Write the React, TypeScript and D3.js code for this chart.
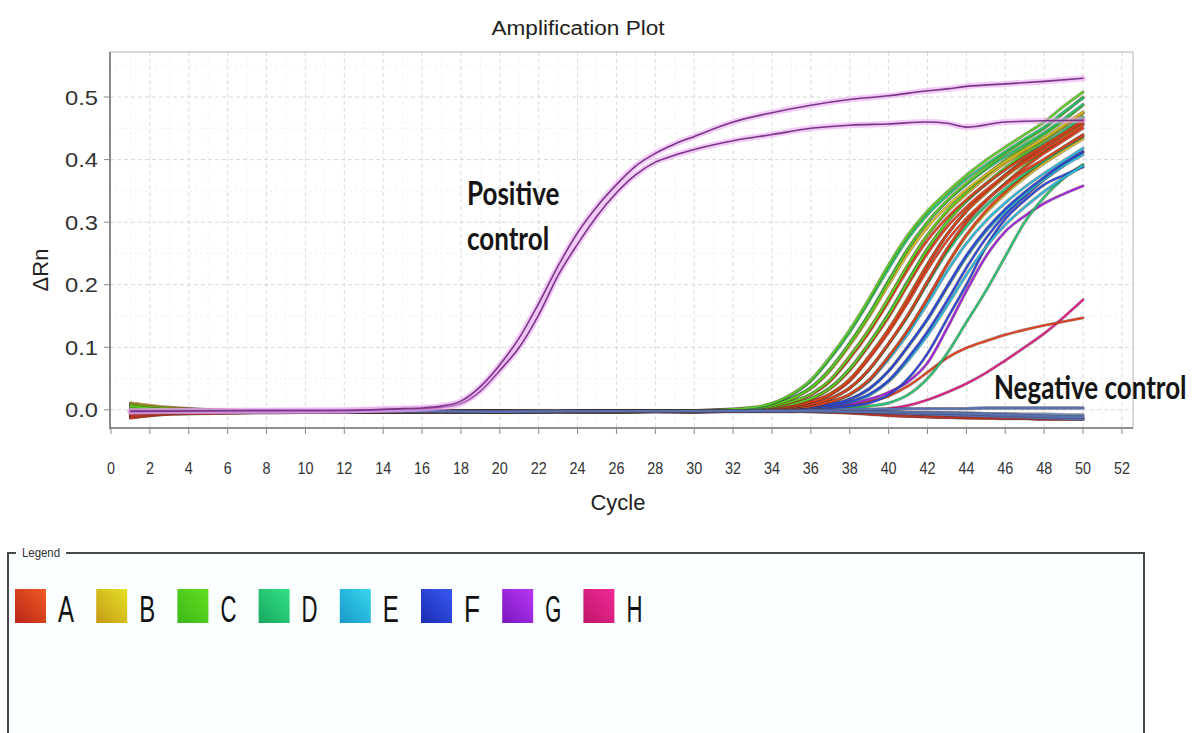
import React from 'react';
import * as d3 from 'd3';

// ---------- data ----------
const TITLE = 'Amplification Plot';
const X_LABEL = 'Cycle';
const Y_LABEL = 'ΔRn';
const X_TICKS = d3.range(0, 53, 2);
const Y_TICKS = [0, 0.1, 0.2, 0.3, 0.4, 0.5];

const ROWS = ['A', 'B', 'C', 'D', 'E', 'F', 'G', 'H'];
const ROW_COLORS = ['#e5401c', '#d6c01e', '#58d31e', '#22c870', '#25bce0', '#2a46e0', '#a024e0', '#e0208a'];
const ROW_GRAD_DARK = ['#b8261a', '#c49a18', '#3cb818', '#18a860', '#1a98c8', '#1a2cb0', '#7a16c0', '#c0186a'];
const ROW_GRAD_LIGHT = ['#f25a22', '#e6e024', '#62e020', '#34e088', '#36d6ee', '#3858f4', '#b838f4', '#f02896'];

// cycles at which the late-amplifying wells were read
const LATE_CYCLES = [1, 3, 8, 14, 20, 26, 30, 33, 35, 36, 37, 38, 39, 40, 41, 42, 43, 44, 45, 46, 47, 48, 49, 50];
// cycles at which the positive controls were read
const PC_CYCLES = [1, 3, 8, 12, 15, 16, 17, 18, 19, 20, 21, 22, 23, 24, 25, 26, 27, 28, 29, 30, 32, 34, 36, 38, 40, 42, 43, 44, 46, 48, 50];

const C1 = [0.006, 0.0, -0.003, -0.002, -0.003, -0.002, -0.001, 0.004, 0.025, 0.048, 0.085, 0.128, 0.178, 0.232, 0.28, 0.318, 0.348, 0.375, 0.399, 0.42, 0.44, 0.46, 0.485, 0.508];
const D1 = [-0.006, -0.003, -0.004, -0.003, -0.002, -0.003, -0.002, 0.003, 0.024, 0.046, 0.082, 0.124, 0.174, 0.226, 0.274, 0.312, 0.342, 0.369, 0.392, 0.413, 0.433, 0.452, 0.476, 0.498];
const C2 = [0.008, 0.002, -0.002, -0.003, -0.003, -0.002, -0.002, 0.002, 0.018, 0.035, 0.065, 0.106, 0.152, 0.205, 0.257, 0.3, 0.334, 0.362, 0.387, 0.41, 0.43, 0.45, 0.474, 0.5];
const D2 = [0.0, -0.004, -0.003, -0.002, -0.004, -0.003, -0.001, 0.002, 0.019, 0.036, 0.066, 0.107, 0.154, 0.207, 0.258, 0.3, 0.333, 0.36, 0.384, 0.405, 0.424, 0.443, 0.465, 0.488];
const B1 = [0.009, 0.003, -0.002, -0.003, -0.002, -0.003, -0.002, 0.002, 0.017, 0.034, 0.063, 0.103, 0.149, 0.2, 0.25, 0.292, 0.325, 0.352, 0.376, 0.397, 0.416, 0.434, 0.455, 0.476];
const C3 = [0.003, -0.001, -0.003, -0.002, -0.003, -0.004, -0.002, 0.001, 0.013, 0.025, 0.048, 0.085, 0.128, 0.178, 0.232, 0.28, 0.318, 0.348, 0.375, 0.399, 0.42, 0.44, 0.462, 0.487];
const A1 = [-0.011, -0.006, -0.004, -0.003, -0.002, -0.003, -0.002, 0.001, 0.012, 0.024, 0.046, 0.082, 0.124, 0.173, 0.225, 0.271, 0.307, 0.336, 0.361, 0.384, 0.404, 0.423, 0.442, 0.463];
const B2 = [0.006, 0.0, -0.003, -0.002, -0.003, -0.002, -0.003, 0.001, 0.013, 0.025, 0.048, 0.086, 0.129, 0.179, 0.232, 0.279, 0.316, 0.345, 0.371, 0.394, 0.414, 0.433, 0.453, 0.474];
const C4 = [0.002, -0.003, -0.002, -0.003, -0.002, -0.003, -0.002, 0.001, 0.009, 0.018, 0.035, 0.065, 0.106, 0.152, 0.205, 0.257, 0.3, 0.334, 0.362, 0.387, 0.41, 0.43, 0.452, 0.475];
const A2 = [-0.013, -0.007, -0.005, -0.003, -0.003, -0.002, -0.003, 0.0, 0.008, 0.017, 0.034, 0.063, 0.103, 0.148, 0.2, 0.25, 0.292, 0.324, 0.351, 0.375, 0.396, 0.415, 0.434, 0.455];
const D3 = [-0.002, -0.001, -0.003, -0.002, -0.003, -0.003, -0.001, 0.001, 0.009, 0.018, 0.036, 0.066, 0.107, 0.154, 0.207, 0.258, 0.3, 0.333, 0.36, 0.384, 0.406, 0.425, 0.446, 0.468];
const A3 = [-0.009, -0.005, -0.003, -0.004, -0.003, -0.003, -0.002, 0.0, 0.006, 0.013, 0.025, 0.048, 0.085, 0.128, 0.178, 0.232, 0.28, 0.318, 0.348, 0.375, 0.399, 0.42, 0.44, 0.46];
const B3 = [0.01, 0.002, -0.002, -0.003, -0.003, -0.002, -0.003, 0.0, 0.006, 0.013, 0.026, 0.049, 0.086, 0.129, 0.18, 0.233, 0.28, 0.317, 0.346, 0.372, 0.395, 0.415, 0.436, 0.456];
const C5 = [0.001, -0.002, -0.003, -0.002, -0.002, -0.003, -0.003, 0.0, 0.006, 0.013, 0.025, 0.048, 0.085, 0.128, 0.178, 0.232, 0.28, 0.318, 0.348, 0.376, 0.4, 0.422, 0.444, 0.466];
const A4 = [-0.012, -0.006, -0.004, -0.003, -0.003, -0.003, -0.002, 0.0, 0.004, 0.009, 0.018, 0.035, 0.065, 0.106, 0.152, 0.205, 0.257, 0.3, 0.334, 0.362, 0.387, 0.41, 0.43, 0.45];
const C6 = [0.0, -0.003, -0.002, -0.003, -0.003, -0.002, -0.003, 0.0, 0.004, 0.009, 0.018, 0.035, 0.065, 0.106, 0.152, 0.205, 0.257, 0.3, 0.334, 0.362, 0.389, 0.413, 0.435, 0.457];
const D4 = [-0.004, -0.002, -0.003, -0.003, -0.002, -0.003, -0.002, 0.0, 0.004, 0.009, 0.018, 0.035, 0.064, 0.105, 0.15, 0.202, 0.252, 0.293, 0.326, 0.353, 0.377, 0.398, 0.418, 0.437];
const A5 = [-0.01, -0.005, -0.003, -0.003, -0.003, -0.002, -0.003, -0.001, 0.003, 0.006, 0.013, 0.025, 0.048, 0.085, 0.128, 0.178, 0.232, 0.28, 0.318, 0.348, 0.375, 0.399, 0.42, 0.44];
const B4 = [0.011, 0.004, -0.002, -0.002, -0.003, -0.003, -0.002, -0.001, 0.003, 0.006, 0.013, 0.025, 0.048, 0.085, 0.128, 0.178, 0.231, 0.278, 0.315, 0.345, 0.371, 0.394, 0.414, 0.433];
const A6 = [-0.013, -0.007, -0.004, -0.003, -0.002, -0.003, -0.003, 0.0, 0.006, 0.012, 0.024, 0.046, 0.082, 0.124, 0.172, 0.224, 0.27, 0.306, 0.335, 0.36, 0.382, 0.401, 0.42, 0.438];
const E1 = [-0.003, -0.002, -0.003, -0.003, -0.002, -0.003, -0.002, -0.001, 0.003, 0.006, 0.013, 0.024, 0.046, 0.081, 0.122, 0.17, 0.221, 0.266, 0.302, 0.331, 0.356, 0.378, 0.398, 0.418];
const E2 = [-0.005, -0.003, -0.003, -0.002, -0.003, -0.003, -0.002, -0.001, 0.002, 0.004, 0.009, 0.017, 0.033, 0.062, 0.101, 0.144, 0.195, 0.244, 0.285, 0.317, 0.344, 0.368, 0.39, 0.408];
const F1 = [-0.004, -0.003, -0.002, -0.003, -0.003, -0.002, -0.003, -0.001, 0.002, 0.004, 0.009, 0.017, 0.034, 0.062, 0.102, 0.146, 0.197, 0.247, 0.288, 0.321, 0.348, 0.372, 0.394, 0.413];
const E3 = [-0.002, -0.003, -0.002, -0.003, -0.003, -0.002, -0.002, -0.002, 0.001, 0.003, 0.006, 0.012, 0.023, 0.045, 0.079, 0.119, 0.166, 0.216, 0.26, 0.296, 0.324, 0.349, 0.371, 0.39];
const F2 = [-0.006, -0.004, -0.003, -0.003, -0.002, -0.003, -0.002, -0.002, 0.001, 0.003, 0.006, 0.013, 0.025, 0.047, 0.083, 0.125, 0.174, 0.227, 0.274, 0.312, 0.341, 0.368, 0.391, 0.412];

const G_LATE = [-0.004, -0.003, -0.003, -0.002, -0.003, -0.002, -0.002, -0.001, 0.0, 0.002, 0.005, 0.009, 0.017, 0.028, 0.045, 0.075, 0.13, 0.19, 0.245, 0.285, 0.31, 0.33, 0.345, 0.358];
const F_LATE = [-0.005, -0.003, -0.002, -0.003, -0.003, -0.002, -0.002, -0.001, 0.0, 0.001, 0.003, 0.006, 0.011, 0.024, 0.05, 0.09, 0.145, 0.2, 0.26, 0.305, 0.335, 0.36, 0.375, 0.388];
const D_LATE = [-0.003, -0.002, -0.003, -0.003, -0.002, -0.002, -0.003, -0.002, -0.001, 0.0, 0.001, 0.003, 0.006, 0.011, 0.024, 0.05, 0.09, 0.14, 0.19, 0.245, 0.3, 0.34, 0.37, 0.392];
const A_LOW = [-0.008, -0.004, -0.003, -0.002, -0.003, -0.003, -0.002, -0.002, -0.001, 0.0, 0.002, 0.006, 0.013, 0.022, 0.038, 0.06, 0.083, 0.099, 0.11, 0.12, 0.128, 0.135, 0.141, 0.147];
const H_LOW = [-0.004, -0.003, -0.003, -0.002, -0.003, -0.002, -0.003, -0.003, -0.003, -0.002, -0.002, -0.001, 0.0, 0.002, 0.007, 0.016, 0.028, 0.042, 0.059, 0.079, 0.1, 0.122, 0.148, 0.176];

const NEG_A1 = [-0.009, -0.005, -0.003, -0.003, -0.002, -0.003, -0.002, -0.002, -0.002, -0.002, -0.003, -0.004, -0.006, -0.008, -0.01, -0.011, -0.012, -0.013, -0.013, -0.014, -0.014, -0.015, -0.015, -0.015];
const NEG_A2 = [-0.006, -0.004, -0.003, -0.002, -0.003, -0.002, -0.003, -0.002, -0.002, -0.003, -0.004, -0.005, -0.007, -0.009, -0.01, -0.011, -0.012, -0.012, -0.013, -0.013, -0.013, -0.014, -0.014, -0.014];
const NEG_E1 = [-0.004, -0.003, -0.002, -0.003, -0.003, -0.002, -0.002, -0.002, -0.002, -0.002, -0.002, -0.002, -0.003, -0.003, -0.004, -0.004, -0.005, -0.005, -0.006, -0.006, -0.007, -0.007, -0.008, -0.008];
const NEG_F1 = [-0.003, -0.002, -0.003, -0.003, -0.002, -0.002, -0.002, -0.002, -0.002, -0.002, -0.003, -0.003, -0.004, -0.005, -0.006, -0.007, -0.008, -0.009, -0.01, -0.011, -0.012, -0.013, -0.014, -0.015];
const NEG_F2 = [-0.002, -0.002, -0.002, -0.003, -0.002, -0.002, -0.002, -0.001, -0.001, 0.0, 0.0, 0.001, 0.001, 0.001, 0.002, 0.002, 0.002, 0.002, 0.003, 0.003, 0.003, 0.003, 0.003, 0.003];
const NEG_F3 = [-0.002, -0.002, -0.003, -0.002, -0.003, -0.002, -0.002, -0.002, -0.002, -0.002, -0.002, -0.003, -0.003, -0.004, -0.004, -0.005, -0.005, -0.006, -0.007, -0.008, -0.009, -0.01, -0.011, -0.011];

const PC_LOWER = [-0.003, -0.002, -0.002, -0.001, 0.001, 0.002, 0.004, 0.01, 0.03, 0.063, 0.1, 0.152, 0.215, 0.265, 0.31, 0.347, 0.376, 0.396, 0.407, 0.416, 0.43, 0.44, 0.45, 0.455, 0.457, 0.46, 0.458, 0.452, 0.46, 0.462, 0.463];
const PC_UPPER = [-0.002, -0.002, -0.001, -0.001, 0.002, 0.003, 0.006, 0.014, 0.037, 0.072, 0.115, 0.17, 0.23, 0.283, 0.325, 0.36, 0.39, 0.41, 0.425, 0.437, 0.46, 0.475, 0.487, 0.496, 0.502, 0.51, 0.513, 0.517, 0.521, 0.525, 0.53];

const LATE_WELLS: { row: string; values: number[] }[] = [
  { row: 'H', values: H_LOW },
  { row: 'A', values: A_LOW },
  { row: 'G', values: G_LATE },
  { row: 'D', values: D_LATE },
  { row: 'F', values: F_LATE },
  { row: 'E', values: E3 },
  { row: 'F', values: F2 },
  { row: 'E', values: E2 },
  { row: 'F', values: F1 },
  { row: 'E', values: E1 },
  { row: 'B', values: B4 },
  { row: 'A', values: A5 },
  { row: 'D', values: D4 },
  { row: 'C', values: C6 },
  { row: 'A', values: A4 },
  { row: 'C', values: C5 },
  { row: 'B', values: B3 },
  { row: 'A', values: A6 },
  { row: 'A', values: A3 },
  { row: 'D', values: D3 },
  { row: 'A', values: A2 },
  { row: 'C', values: C4 },
  { row: 'B', values: B2 },
  { row: 'A', values: A1 },
  { row: 'C', values: C3 },
  { row: 'B', values: B1 },
  { row: 'D', values: D2 },
  { row: 'C', values: C2 },
  { row: 'D', values: D1 },
  { row: 'C', values: C1 },
];
const NEG_WELLS: { row: string; values: number[] }[] = [
  { row: 'A', values: NEG_A1 },
  { row: 'A', values: NEG_A2 },
  { row: 'E', values: NEG_E1 },
  { row: 'F', values: NEG_F1 },
  { row: 'F', values: NEG_F2 },
  { row: 'F', values: NEG_F3 },
];
const PC_WELLS = [PC_LOWER, PC_UPPER];

// ---------- chart ----------
const W = 1195;
const H = 733;

export default function App() {
  const x = d3.scaleLinear().domain([0, 52.57]).range([111, 1133]);
  const y = d3.scaleLinear().domain([-0.029, 0.572]).range([428, 52]);
  const lineFor = (cycles: number[]) =>
    d3.line<number>().x((_, i) => x(cycles[i])).y((d) => y(d)).curve(d3.curveMonotoneX);
  const lateLine = lineFor(LATE_CYCLES);
  const pcLine = lineFor(PC_CYCLES);
  const color = (r: string) => ROW_COLORS[ROWS.indexOf(r)];
  const fmt = d3.format('.1f');
  const minorY = d3.range(0.05, 0.56, 0.1);
  const minorX = d3.range(1, 53, 2);
  const arial = 'Liberation Sans, Arial, sans-serif';
  const annoFont = "Lato, 'Open Sans', sans-serif";

  return (
    <svg width={W} height={H} style={{ position: 'absolute', left: 0, top: 0, display: 'block', background: '#fff' }}>
      <defs>
        {ROWS.map((r, i) => (
          <linearGradient key={r} id={`g${r}`} x1="0" y1="1" x2="1" y2="0">
            <stop offset="0" stopColor={ROW_GRAD_DARK[i]} />
            <stop offset="1" stopColor={ROW_GRAD_LIGHT[i]} />
          </linearGradient>
        ))}
        <clipPath id="plotClip">
          <rect x={110} y={52} width={1023} height={376} />
        </clipPath>
      </defs>

      {/* title */}
      <text x={578} y={35} textAnchor="middle" fontFamily={arial} fontSize={20} fill="#222" textLength={173} lengthAdjust="spacingAndGlyphs">
        {TITLE}
      </text>

      {/* grid */}
      <g>
        {minorX.map((c) => (
          <line key={'mx' + c} x1={x(c)} x2={x(c)} y1={52} y2={428} stroke="#f0f0f0" strokeDasharray="2,3" />
        ))}
        {minorY.map((v) => (
          <line key={'my' + v} x1={110} x2={1133} y1={y(v)} y2={y(v)} stroke="#eeeeee" strokeDasharray="2,3" />
        ))}
        {X_TICKS.filter((c) => c > 0).map((c) => (
          <line key={'gx' + c} x1={x(c)} x2={x(c)} y1={52} y2={428} stroke="#dcdcdc" strokeDasharray="4,3" />
        ))}
        {Y_TICKS.map((v) => (
          <line key={'gy' + v} x1={110} x2={1133} y1={y(v)} y2={y(v)} stroke="#d8d8d8" strokeDasharray="4,3" />
        ))}
      </g>

      {/* frame */}
      <rect x={110} y={52} width={1023} height={376} fill="none" stroke="#b4b4b4" strokeWidth={1} />
      <line x1={110} x2={110} y1={52} y2={429} stroke="#777" strokeWidth={1.6} />
      <line x1={109} x2={1133} y1={428} y2={428} stroke="#777" strokeWidth={1.6} />

      {/* ticks */}
      {Y_TICKS.map((v) => (
        <g key={'ty' + v}>
          <line x1={104} x2={110} y1={y(v)} y2={y(v)} stroke="#888" />
          <text x={98} y={y(v) + 7.5} textAnchor="end" fontFamily={arial} fontSize={21} fill="#333" textLength={33} lengthAdjust="spacingAndGlyphs">
            {fmt(v)}
          </text>
        </g>
      ))}
      {X_TICKS.map((c) => (
        <g key={'tx' + c}>
          <line x1={x(c)} x2={x(c)} y1={428} y2={434} stroke="#888" />
          <text x={x(c)} y={474} textAnchor="middle" fontFamily={arial} fontSize={17} fill="#333" textLength={String(c).length * 8} lengthAdjust="spacingAndGlyphs">
            {c}
          </text>
        </g>
      ))}

      {/* axis labels */}
      <text x={618} y={510} textAnchor="middle" fontFamily={arial} fontSize={22} fill="#222">
        {X_LABEL}
      </text>
      <text transform="translate(48,270) rotate(-90)" textAnchor="middle" fontFamily={arial} fontSize={22} fill="#222">
        {Y_LABEL}
      </text>

      {/* curves */}
      <g clipPath="url(#plotClip)" fill="none" strokeLinejoin="round" strokeLinecap="round">
        {LATE_WELLS.map((w, i) => (
          <g key={'lw' + i}>
            <path d={lateLine(w.values) || ''} stroke="rgba(70,40,40,0.55)" strokeWidth={3} />
            <path d={lateLine(w.values) || ''} stroke={color(w.row)} strokeWidth={1.8} />
          </g>
        ))}
        {NEG_WELLS.map((w, i) => (
          <g key={'nw' + i}>
            <path d={lateLine(w.values) || ''} stroke="rgba(70,40,40,0.5)" strokeWidth={3.4} />
            <path d={lateLine(w.values) || ''} stroke={w.row === 'A' ? '#b8342a' : w.row === 'E' ? '#6f8fb8' : '#5670b0'} strokeWidth={2.4} />
          </g>
        ))}
        {PC_WELLS.map((v, i) => (
          <g key={'pc' + i}>
            <path d={pcLine(v) || ''} stroke="rgba(232,160,240,0.55)" strokeWidth={6} />
            <path d={pcLine(v) || ''} stroke="#7a3488" strokeWidth={1.6} />
          </g>
        ))}
      </g>

      {/* annotations */}
      <g fontFamily={annoFont} fontWeight={700} fontSize={26} fill="#151515">
        <text transform="translate(467,205) scale(1,1.25)">Positive</text>
        <text transform="translate(467,250) scale(1,1.25)">control</text>
        <text transform="translate(994,399) scale(1,1.25)">Negative control</text>
      </g>

      {/* legend */}
      <rect x={8} y={553} width={1136} height={200} fill="#fbfeff" />
      <path d="M8,733 L8,553 L16,553 M66,553 L1144,553 L1144,733" fill="none" stroke="#4a4a4a" strokeWidth={2} />
      <text x={22} y={557} fontFamily={arial} fontSize={13} fill="#333" textLength={38} lengthAdjust="spacingAndGlyphs">
        Legend
      </text>
      {ROWS.map((r, i) => {
        const lx = 15 + i * 81.2;
        return (
          <g key={'lg' + r}>
            <rect x={lx} y={589} width={31} height={34} fill={`url(#g${r})`} />
            <text x={lx + 43} y={622} fontFamily={arial} fontSize={36} fill="#111" textLength={16} lengthAdjust="spacingAndGlyphs">
              {r}
            </text>
          </g>
        );
      })}
    </svg>
  );
}
